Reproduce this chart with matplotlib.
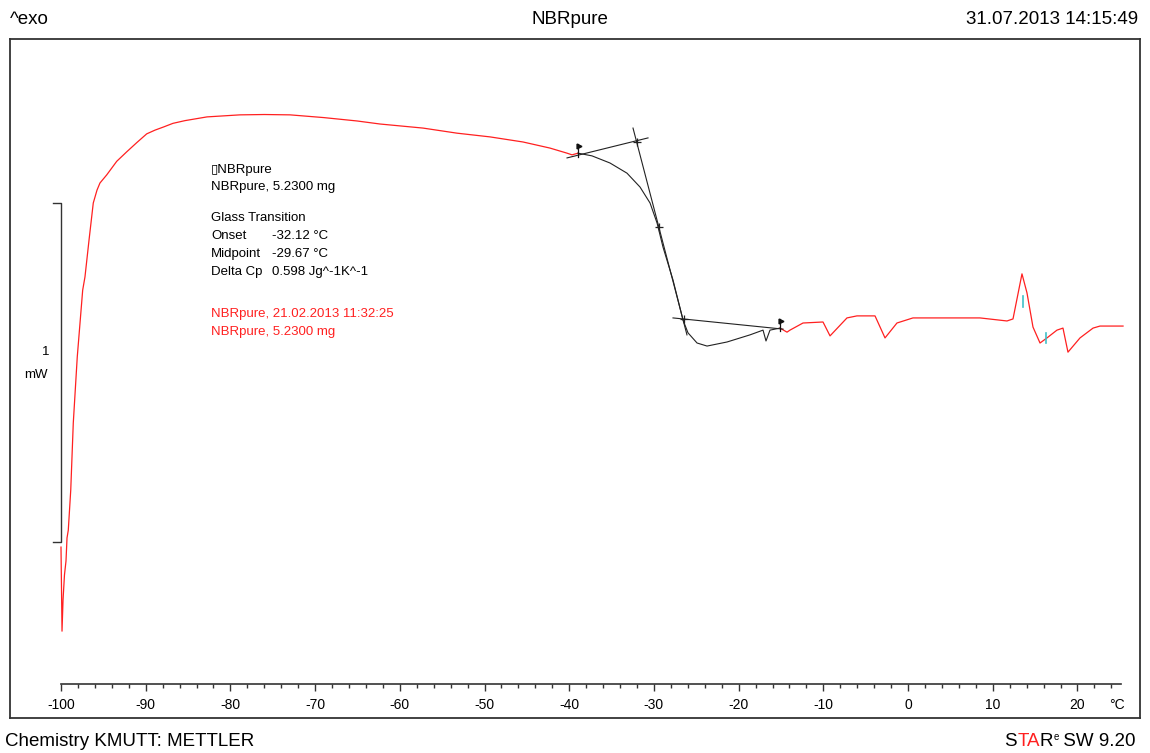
import matplotlib
matplotlib.use('Agg')
import numpy as np
import matplotlib.pyplot as plt
from matplotlib.ticker import MultipleLocator
from matplotlib.offsetbox import TextArea, HPacker, AnchoredOffsetbox

plt.rcParams['axes.unicode_minus'] = False

# DSC curve: temperature (degC) and heat flow (mW, arbitrary offset)
temp = [-100.0, -99.94, -99.88, -99.76, -99.59, -99.41, -99.29, -99.14, -98.85, -98.55,
        -98.08, -97.44, -97.17, -96.69, -96.19, -95.75, -95.40, -94.60, -93.42, -92.24,
        -91.06, -89.88, -88.90, -87.92, -86.78, -85.36, -82.76, -78.87, -76.0, -72.96,
        -69.0, -65.06, -62.34, -57.26, -53.25, -49.35, -45.46, -42.27, -40.26, -39.67,
        -38.96, -37.31, -35.19, -33.18, -31.64, -30.46, -29.63, -28.93, -27.75, -26.57,
        -25.98, -24.91, -23.73, -21.37, -18.66, -17.12, -16.77, -16.30, -15.12,
        -14.29, -13.94, -12.40, -10.04, -9.21, -7.21, -6.03, -3.90, -2.72, -1.31,
        0.58, 8.49, 11.68, 12.39, 13.45, 14.04, 14.75, 15.58, 16.40, 17.58,
        18.29, 18.88, 20.30, 21.84, 22.66, 25.38]
heat = [-0.015, -0.139, -0.263, -0.171, -0.097, -0.056, 0.012, 0.035, 0.153, 0.351,
        0.546, 0.743, 0.782, 0.891, 1.000, 1.038, 1.059, 1.083, 1.123, 1.151,
        1.178, 1.204, 1.215, 1.224, 1.235, 1.243, 1.254, 1.260, 1.261, 1.260,
        1.252, 1.242, 1.233, 1.221, 1.206, 1.195, 1.180, 1.162, 1.147, 1.142,
        1.147, 1.139, 1.118, 1.088, 1.047, 1.000, 0.941, 0.870, 0.773, 0.655,
        0.617, 0.587, 0.578, 0.590, 0.611, 0.625, 0.593, 0.625, 0.631,
        0.619, 0.625, 0.646, 0.649, 0.608, 0.661, 0.667, 0.667, 0.602, 0.646,
        0.661, 0.661, 0.652, 0.658, 0.791, 0.735, 0.634, 0.587, 0.602, 0.625,
        0.631, 0.560, 0.602, 0.631, 0.637, 0.637]

# evaluation window (drawn black)
t_start, t_end = -38.96, -15.12

# glass transition construction lines
base1_t, base1_y = [-40.26, -30.70], [1.133, 1.192]
tang_t, tang_y = [-32.47, -26.10], [1.221, 0.611]
base2_t, base2_y = [-27.75, -14.76], [0.661, 0.628]
cross_t, cross_y = [-32.00, -29.40, -26.45], [1.180, 0.929, 0.658]

# cyan integration limit marks
cyan_t = [13.60, 16.30]
cyan_y = [(0.694, 0.726), (0.587, 0.617)]

xticks = list(range(-100, 30, 10))

# layout in pixels
W, H = 1150, 753
frame = (10, 39, 1140, 718)      # left, top, right, bottom
px0, pxT = 61, 8.4705            # pixel of -100 degC, pixels per degC
py0, pyW = 542, 339              # pixel of 0 mW, pixels per mW
axis_py = 684


def tx(px):
    return -100 + (px - px0) / pxT


def ty(py):
    return (py0 - py) / pyW


fig = plt.figure(figsize=(W / 100, H / 100), dpi=100)
fam = ['Liberation Sans', 'DejaVu Sans']

ax = fig.add_axes([frame[0] / W, 1 - frame[3] / H,
                   (frame[2] - frame[0]) / W, (frame[3] - frame[1]) / H])
ax.set_xlim(tx(frame[0]), tx(frame[2]))
ax.set_ylim(ty(frame[3]), ty(frame[1]))
ax.set_xticks([])
ax.set_yticks([])
for s in ax.spines.values():
    s.set_color('#333333')
    s.set_linewidth(1.3)

t = np.array(temp)
h = np.array(heat)
m1 = t <= t_start
m2 = (t >= t_start) & (t <= t_end)
m3 = t >= t_end
ax.plot(t[m1], h[m1], color='#ff2020', lw=0.9)
ax.plot(t[m3], h[m3], color='#ff2020', lw=0.9)
ax.plot(t[m2], h[m2], color='#222222', lw=0.8)

# construction lines
for xs, ys in [(base1_t, base1_y), (tang_t, tang_y), (base2_t, base2_y)]:
    ax.plot(xs, ys, color='#222222', lw=0.8)
ax.plot(cross_t, cross_y, ls='none', marker='+', ms=6, mew=0.9, color='#222222')

# limit flags
for ft, fy in [(t_start, 1.147), (t_end, 0.631)]:
    ax.plot([ft, ft], [fy - 0.01, fy + 0.028], color='#111111', lw=0.9)
    ax.plot([ft + 0.15], [fy + 0.022], marker='>', ms=3.5, color='#111111')

for ct, (y1, y2) in zip(cyan_t, cyan_y):
    ax.plot([ct, ct], [y1, y2], color='#40c0c8', lw=1.2)

# scale bar 1 mW
ax.plot([tx(53), tx(61), tx(61), tx(53)], [1.0, 1.0, 0.0, 0.0], color='#333333', lw=1.0)
ax.text(tx(46), ty(352), '1', ha='center', va='center', fontsize=9.5, family=fam)
ax.text(tx(36), ty(375), 'mW', ha='center', va='center', fontsize=9.5, family=fam)

# annotation block
xa, xv = tx(211), tx(272)
ax.text(xa, ty(170), '\u25af' + 'NBRpure', fontsize=9.5, va='center', family=fam)
ax.text(xa, ty(187), 'NBRpure, 5.2300 mg', fontsize=9.5, va='center', family=fam)
ax.text(xa, ty(218), 'Glass Transition', fontsize=9.5, va='center', family=fam)
for lab, val, py in [('Onset', '-32.12 \u00b0C', 236), ('Midpoint', '-29.67 \u00b0C', 254),
                     ('Delta Cp', '0.598 Jg^-1K^-1', 272)]:
    ax.text(xa, ty(py), lab, fontsize=9.5, va='center', family=fam)
    ax.text(xv, ty(py), val, fontsize=9.5, va='center', family=fam)
ax.text(xa, ty(314), 'NBRpure, 21.02.2013 11:32:25', fontsize=9.5, va='center',
        color='#ff2020', family=fam)
ax.text(xa, ty(332), 'NBRpure, 5.2300 mg', fontsize=9.5, va='center',
        color='#ff2020', family=fam)

# temperature axis
axx = fig.add_axes([px0 / W, 1 - axis_py / H, (tx(1121) + 100) * pxT / W, 0.0001])
axx.set_xlim(-100, tx(1121))
axx.set_yticks([])
for k in ['top', 'left', 'right']:
    axx.spines[k].set_visible(False)
axx.spines['bottom'].set_color('#333333')
axx.spines['bottom'].set_linewidth(1.2)
axx.patch.set_visible(False)
axx.set_xticks(xticks)
axx.xaxis.set_minor_locator(MultipleLocator(2))
axx.tick_params(axis='x', which='major', length=5, width=1.0, color='#333333',
                labelsize=10, pad=5)
axx.tick_params(axis='x', which='minor', length=3, width=1.0, color='#333333')
for lbl in axx.get_xticklabels():
    lbl.set_family(fam)
ax.text(tx(1117), ty(705), '\u00b0C', ha='center', va='center', fontsize=10, family=fam)

# header and footer
fig.text(10 / W, 1 - 20 / H, '^exo', ha='left', va='center', fontsize=13.5, family=fam)
fig.text(570 / W, 1 - 20 / H, 'NBRpure', ha='center', va='center', fontsize=13.5, family=fam)
fig.text(1138 / W, 1 - 20 / H, '31.07.2013 14:15:49', ha='right', va='center',
         fontsize=13.5, family=fam)
fig.text(5 / W, 1 - 741 / H, 'Chemistry KMUTT: METTLER', ha='left', va='center',
         fontsize=13.5, family=fam)

parts = [('S', 'black', 13.5), ('TA', '#ff2020', 13.5), ('R', 'black', 13.5),
         ('e', 'black', 7), (' SW 9.20', 'black', 13.5)]
boxes = [TextArea(s, textprops=dict(color=c, fontsize=fs, family=fam)) for s, c, fs in parts]
pack = HPacker(children=boxes, align='top', pad=0, sep=0)
anch = AnchoredOffsetbox(loc='center right', child=pack, frameon=False,
                         bbox_to_anchor=(1136 / W, 1 - 741 / H),
                         bbox_transform=fig.transFigure, borderpad=0, pad=0)
fig.add_artist(anch)

fig.savefig('out.png', dpi=100)
